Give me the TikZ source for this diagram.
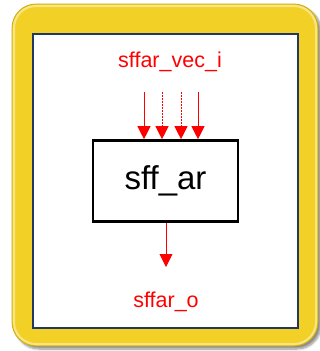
\documentclass[tikz,border=0pt]{standalone}
\usepackage{fontspec}
\setmainfont{Liberation Sans}
\usetikzlibrary{arrows.meta,shadows.blur}
\definecolor{frameyellow}{RGB}{242,208,38}
\definecolor{frameedge}{RGB}{205,170,20}
\definecolor{panelnavy}{RGB}{31,56,100}
\definecolor{sigred}{RGB}{255,0,0}
\tikzset{
  sig/.style={draw=sigred, line width=0.9pt, -{Triangle[length=13pt,width=13pt]}},
  sigdash/.style={sig, dash pattern=on 2pt off 1pt},
  siglabel/.style={text=sigred, font=\fontsize{21.5}{24}\selectfont, inner sep=0pt},
  block/.style={draw=black, line width=2.6pt, fill=white, minimum width=145pt, minimum height=81pt,
    font=\fontsize{33}{38}\selectfont, inner sep=0pt}
}
\begin{document}
\begin{tikzpicture}[x=1pt,y=-1pt]
\useasboundingbox (0,0) rectangle (320,351);
% yellow frame with soft shadow
\fill[frameyellow, draw=frameedge, line width=0.8pt, rounded corners=24pt,
  blur shadow={shadow xshift=3pt, shadow yshift=-3pt, shadow blur steps=8, shadow opacity=45}]
  (12,4) rectangle (318,346);
\draw[white, opacity=0.45, line width=2pt, rounded corners=22pt] (14,6) rectangle (316,344);
% white panel
\fill[white, draw=panelnavy, line width=1.6pt] (33,34) rectangle (298,328);
% block and labels
\node[block] (ar) at (165.5,181) {sff\_ar};
\node[siglabel] (vin) at (170,62) {sffar\_vec\_i};
\node[siglabel] (out) at (166,302) {sffar\_o};
% input bus lines
\coordinate (i1) at (144,92);
\coordinate (i2) at (162,92);
\coordinate (i3) at (181,92);
\coordinate (i4) at (198,92);
\draw[sig] (i1) -- (i1 |- ar.north);
\draw[sigdash] (i2) -- (i2 |- ar.north);
\draw[sigdash] (i3) -- (i3 |- ar.north);
\draw[sig] (i4) -- (i4 |- ar.north);
% output line
\coordinate (o1) at (166,267);
\draw[sig] (ar.south -| o1) -- (o1);
\end{tikzpicture}
\end{document}
